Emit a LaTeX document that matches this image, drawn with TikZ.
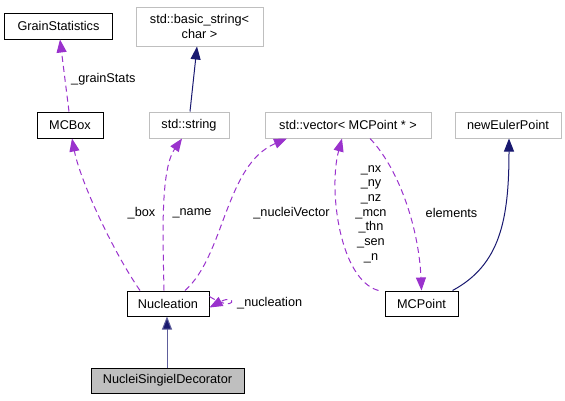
\documentclass[tikz,border=0pt]{standalone}
\usepackage{fontspec}
\setmainfont{Liberation Sans}
\usetikzlibrary{arrows.meta}
\definecolor{dpurple}{HTML}{9A32CD}
\definecolor{dnavy}{HTML}{191970}
\definecolor{dgray}{HTML}{BFBFBF}
\tikzset{
  x=1pt,y=-1pt,
  every node/.style={font=\fontsize{12.7}{14.7}\selectfont},
  cls/.style={draw=black,line width=1pt,fill=white,inner sep=0pt,align=center},
  ext/.style={draw=dgray,line width=1pt,fill=white,inner sep=0pt,align=center},
  cur/.style={draw=black,line width=1pt,fill=dgray,inner sep=0pt,align=center},
  use/.style={draw=dpurple,line width=1pt,dash pattern=on 6pt off 4pt,-{Triangle[length=13pt,width=10pt,fill=dpurple]}},
  inh/.style={draw=dnavy,line width=1pt,-{Triangle[length=13pt,width=10pt,fill=dnavy]}},
  lbl/.style={inner sep=0pt,text=black}
}
\begin{document}
\begin{tikzpicture}
\useasboundingbox (0,0) rectangle (565,400);
\node[cls,minimum width=108pt,minimum height=26pt] (gs) at (58.5,26) {GrainStatistics};
\node[ext,minimum width=127pt,minimum height=39pt] (bs) at (199.5,26.5) {std::basic\_string<\\char >};
\node[cls,minimum width=66pt,minimum height=26pt] (mcbox) at (70,125) {MCBox};
\node[ext,minimum width=80pt,minimum height=26pt] (str) at (189,125) {std::string};
\node[ext,minimum width=166pt,minimum height=26pt] (vec) at (348,125) {std::vector< MCPoint * >};
\node[ext,minimum width=106pt,minimum height=26pt] (nep) at (508,125) {newEulerPoint};
\node[cls,minimum width=82pt,minimum height=25pt] (nuc) at (168,303.5) {Nucleation};
\node[cls,minimum width=73pt,minimum height=25pt] (mcp) at (421.5,303.5) {MCPoint};
\node[cur,minimum width=153pt,minimum height=25pt] (nsd) at (167.5,380.5) {NucleiSingielDecorator};

% edges
\draw[use] ([xshift=-1pt]mcbox.north) -- ([xshift=1.5pt]gs.south);
\draw[inh] ([xshift=1pt]str.north) -- ([xshift=-2.5pt]bs.south);
\draw[use] ([xshift=-28pt]nuc.north) .. controls (112,250) and (80,180) .. ([xshift=2pt]mcbox.south);
\draw[use] ([xshift=-4pt]nuc.north) .. controls (163,240) and (160,170) .. ([xshift=-7pt]str.south);
\draw[use] ([xshift=17pt]nuc.north) .. controls (225,255) and (225,165) .. ([xshift=-61pt]vec.south);
\draw[use] ([xshift=-43pt]mcp.north) .. controls (340,280) and (328,190) .. ([xshift=-6pt]vec.south);
\draw[use] ([xshift=22pt]vec.south) .. controls (400,170) and (419,230) .. (mcp.north);
\draw[inh] ([xshift=31pt]mcp.north) .. controls (500,265) and (509,220) .. ([xshift=1pt]nep.south);
\draw[use] ([yshift=7pt]nuc.east) .. controls (237,314) and (237,293) .. ([yshift=-4pt]nuc.east);
\draw[inh,draw=dnavy!70] ([xshift=-0.5pt]nsd.north) -- ([xshift=-1pt]nuc.south);

% labels
\node[lbl,anchor=west] (l1) at (71,79) {\_grainStats};
\node[lbl] (l2) at (141.5,213) {\_box};
\node[lbl] (l3) at (192,213) {\_name};
\node[lbl] (l4) at (291.5,213) {\_nucleiVector};
\node[lbl,align=center] (l5) at (371,214) {\_nx\\\_ny\\\_nz\\\_mcn\\\_thn\\\_sen\\\_n};
\node[lbl] (l6) at (451.5,213) {elements};
\node[lbl,anchor=west] (l7) at (237,303) {\_nucleation};
\end{tikzpicture}
\end{document}
